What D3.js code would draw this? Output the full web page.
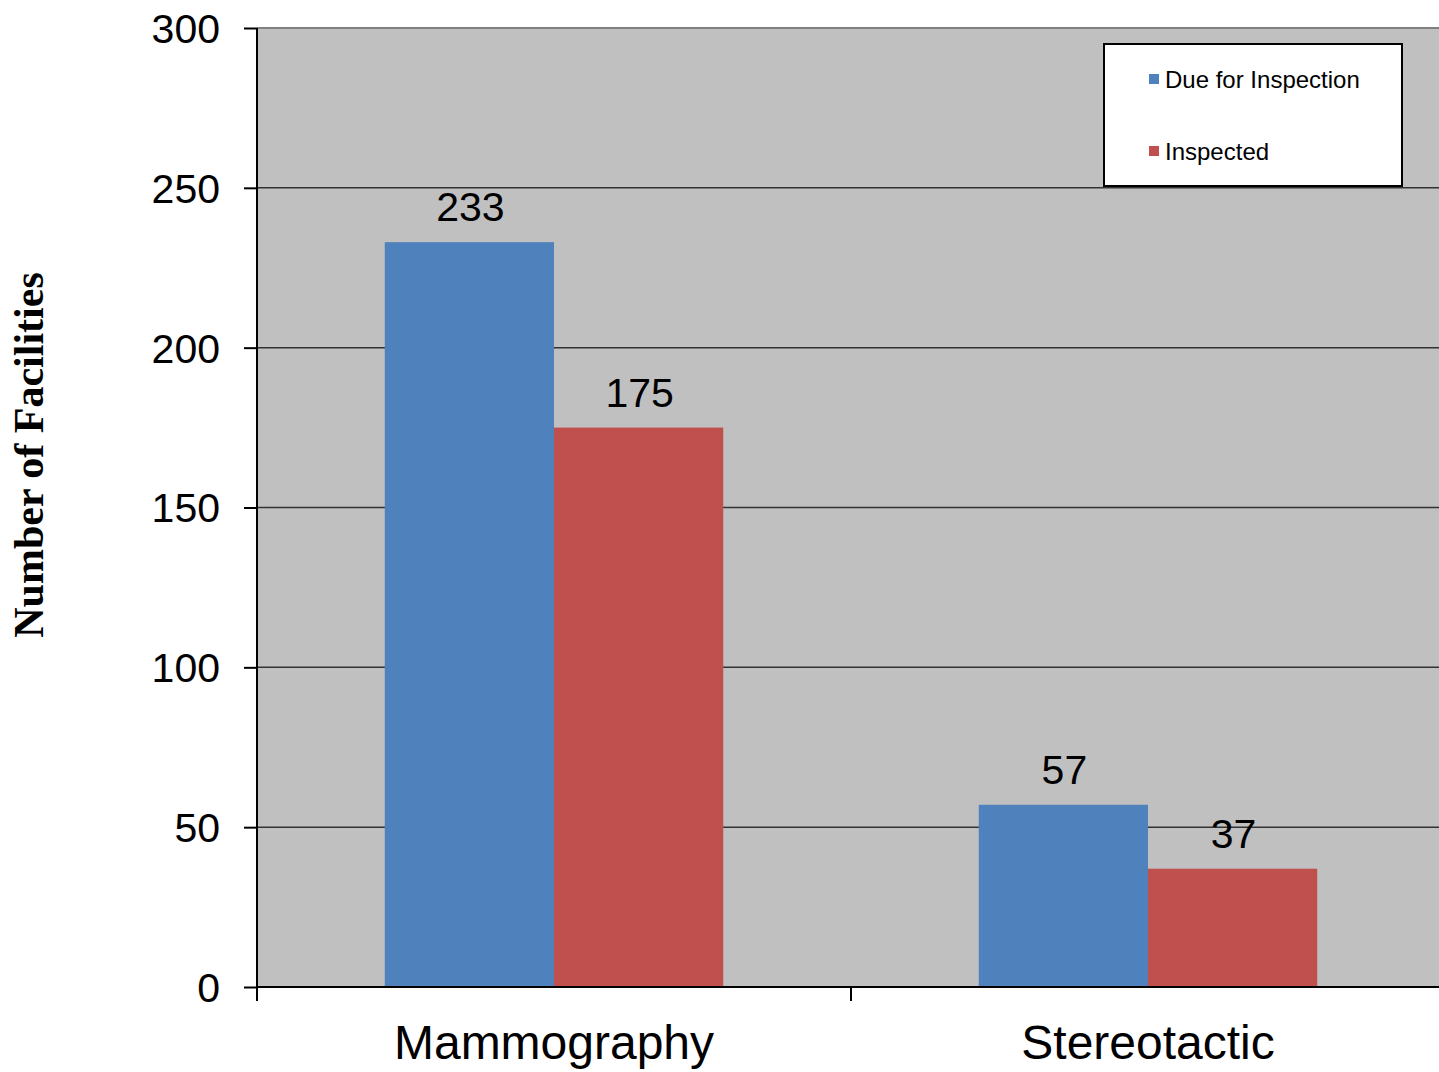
<!DOCTYPE html>
<html><head><meta charset="utf-8">
<script src="https://cdn.jsdelivr.net/npm/d3@7"></script>
<style>body{margin:0;background:#fff;overflow:hidden}</style>
</head><body>
<script>
const categories = ["Mammography", "Stereotactic"];
const seriesNames = ["Due for Inspection", "Inspected"];
const dueValues = [233, 57];
const inspectedValues = [175, 37];
const yTicks = [0, 50, 100, 150, 200, 250, 300];
const colors = ["#4F81BD", "#C0504D"];

const W = 1439, H = 1072;
const m = {left: 257, top: 28, right: -6, bottom: 85};
const svg = d3.select("body").append("svg").attr("width", W).attr("height", H);
const pw = W - m.left - m.right, ph = H - m.top - m.bottom;
const g = svg.append("g").attr("transform", `translate(${m.left},${m.top})`);

const x = d3.scaleBand().domain(categories).range([0, pw]).paddingInner(0).paddingOuter(0);
const x1 = d3.scaleBand().domain(seriesNames).range([0, x.bandwidth()]).paddingInner(0).paddingOuter(0.755);
const y = d3.scaleLinear().domain([0, 300]).range([ph, 0]);

g.append("rect").attr("width", pw).attr("height", ph).attr("fill", "#C0C0C0");
g.append("line").attr("x1", 0).attr("x2", pw).attr("y1", 0).attr("y2", 0).attr("stroke", "#808080").attr("stroke-width", 2);

g.selectAll(".grid").data(yTicks.filter(t => t > 0 && t < 300)).enter().append("line")
  .attr("x1", 0).attr("x2", pw).attr("y1", d => y(d)).attr("y2", d => y(d))
  .attr("stroke", "#333").attr("stroke-width", 1.5);

const data = categories.map((c, i) => ({c, vals: [dueValues[i], inspectedValues[i]]}));
const grp = g.selectAll(".grp").data(data).enter().append("g").attr("transform", d => `translate(${x(d.c)},0)`);
grp.selectAll("rect").data(d => d.vals.map((v, j) => ({v, s: seriesNames[j], j}))).enter().append("rect")
  .attr("x", d => x1(d.s)).attr("width", x1.bandwidth()).attr("y", d => y(d.v)).attr("height", d => ph - y(d.v))
  .attr("fill", d => colors[d.j]);
grp.selectAll("text").data(d => d.vals.map((v, j) => ({v, s: seriesNames[j], j}))).enter().append("text")
  .attr("x", d => x1(d.s) + x1.bandwidth() / 2 + 1).attr("y", d => y(d.v) - 21)
  .attr("text-anchor", "middle").attr("font-family", "Liberation Sans, Arial, sans-serif").attr("font-size", 41).attr("fill", "#000")
  .text(d => d.v);

// axes
const yAxis = g.append("g").call(d3.axisLeft(y).tickValues(yTicks).tickSize(13).tickPadding(24));
yAxis.select(".domain").attr("stroke", "#000").attr("stroke-width", 2).attr("d", `M0,${ph}V0`);
yAxis.selectAll(".tick line").attr("stroke", "#000").attr("stroke-width", 2);
yAxis.selectAll("text").attr("font-family", "Liberation Sans, Arial, sans-serif").attr("font-size", 41).attr("fill", "#000").attr("dy", "0.35em");

const xAxis = g.append("g").attr("transform", `translate(0,${ph})`)
  .call(d3.axisBottom(x).tickSize(0).tickPadding(38));
xAxis.select(".domain").attr("stroke", "#000").attr("stroke-width", 2).attr("d", `M0,0H${pw}`);
xAxis.selectAll("text").attr("font-family", "Liberation Sans, Arial, sans-serif").attr("font-size", 48).attr("fill", "#000").attr("dy", "0.71em");
// category boundary ticks
g.selectAll(".ctick").data(categories).enter().append("line")
  .attr("x1", d => x(d)).attr("x2", d => x(d)).attr("y1", ph).attr("y2", ph + 14)
  .attr("stroke", "#000").attr("stroke-width", 2);

// y title
svg.append("text").attr("transform", "translate(43,455) rotate(-90)").attr("text-anchor", "middle")
  .attr("font-family", "Liberation Serif, Times New Roman, serif").attr("font-weight", "bold").attr("font-size", 42)
  .text("Number of Facilities");

// legend
const lg = svg.append("g").attr("transform", "translate(1104,44)");
lg.append("rect").attr("width", 298).attr("height", 142).attr("fill", "#fff").attr("stroke", "#000").attr("stroke-width", 2);
seriesNames.forEach((s, i) => {
  const yy = 35 + i * 72;
  lg.append("rect").attr("x", 45).attr("y", yy - 5).attr("width", 10).attr("height", 10).attr("fill", colors[i]);
  lg.append("text").attr("x", 61).attr("y", yy + 9).attr("font-family", "Liberation Sans, Arial, sans-serif").attr("font-size", 24).attr("fill", "#000").text(s);
});
</script>
</body></html>
